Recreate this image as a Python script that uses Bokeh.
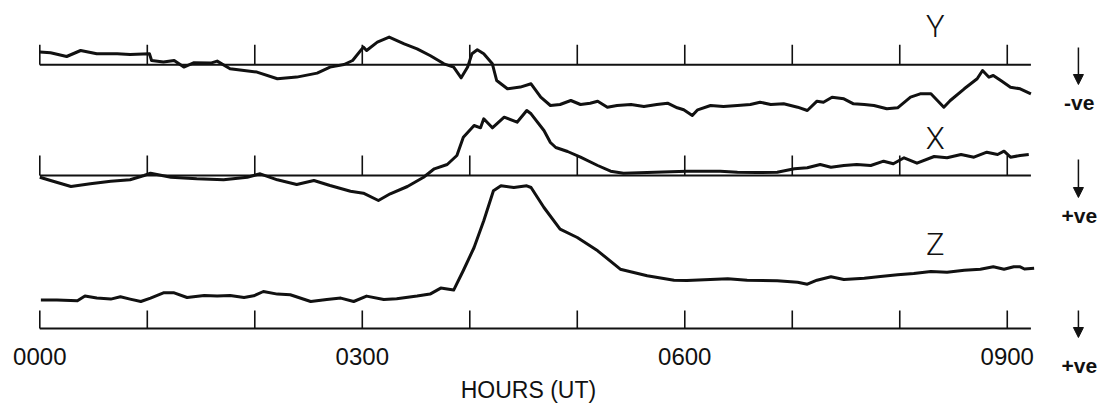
from bokeh.plotting import figure
from bokeh.models import Range1d, Label, Arrow, NormalHead
from bokeh.core.properties import value
from bokeh.embed import file_html
from bokeh.resources import INLINE

# ---------------- data (hours UT, deflection in chart units, up = positive) ----------------
hour_ticks = [0, 1, 2, 3, 4, 5, 6, 7, 8, 9]
label_hours = [0, 3, 6, 9]
tick_labels = ["0000", "0300", "0600", "0900"]
record_end = 9.22

y_hours = [0.00, 0.10, 0.25, 0.38, 0.53, 0.72, 0.84, 1.02, 1.04, 1.15, 1.25, 1.34, 1.43, 1.59,
           1.65, 1.77, 1.90, 2.02, 2.21, 2.39, 2.58, 2.70, 2.83, 2.91, 3.01, 3.04, 3.14, 3.25,
           3.39, 3.51, 3.63, 3.76, 3.85, 3.92, 3.98, 4.02, 4.07, 4.13, 4.21, 4.25, 4.35, 4.47,
           4.57, 4.66, 4.75, 4.84, 4.94, 5.03, 5.12, 5.19, 5.28, 5.37, 5.50, 5.62, 5.74, 5.84,
           5.93, 5.99, 6.07, 6.12, 6.24, 6.36, 6.49, 6.61, 6.70, 6.80, 6.92, 7.05, 7.14, 7.23,
           7.29, 7.37, 7.48, 7.57, 7.67, 7.76, 7.88, 7.98, 8.10, 8.19, 8.29, 8.35, 8.41, 8.47,
           8.60, 8.72, 8.77, 8.83, 8.87, 8.94, 9.03, 9.12, 9.22]
y_defl = [12.7, 12.0, 8.3, 14.3, 11.0, 11.0, 10.3, 11.0, 4.3, 2.7, 4.3, -2.3, 2.0, 1.7,
          3.7, -4.0, -5.7, -7.3, -14.0, -12.3, -8.3, -2.3, 0.3, 4.3, 17.7, 14.3, 22.7, 27.7,
          21.0, 16.0, 9.3, 1.0, -2.3, -13.0, -2.3, 11.0, 15.0, 11.0, 1.0, -15.7, -24.0, -22.3,
          -19.0, -32.4, -40.7, -39.7, -35.7, -39.7, -38.4, -36.4, -42.4, -40.7, -39.7, -41.7, -39.7, -38.4,
          -43.0, -45.0, -50.7, -45.0, -40.7, -41.7, -40.7, -39.7, -37.4, -39.7, -39.0, -42.4, -45.7, -36.4,
          -37.4, -32.4, -34.0, -39.0, -39.7, -40.7, -44.0, -43.0, -32.4, -29.0, -29.0, -35.7, -42.4, -35.7,
          -24.0, -14.0, -5.7, -12.4, -10.7, -15.7, -22.4, -24.0, -29.0]

x_hours = [0.00, 0.10, 0.29, 0.47, 0.66, 0.84, 0.97, 1.03, 1.22, 1.46, 1.71, 1.93, 2.05, 2.21,
           2.39, 2.55, 2.70, 2.89, 3.01, 3.15, 3.26, 3.42, 3.57, 3.67, 3.79, 3.88, 3.94, 4.04,
           4.10, 4.13, 4.21, 4.32, 4.44, 4.53, 4.57, 4.69, 4.75, 4.80, 4.91, 5.03, 5.19, 5.31,
           5.43, 5.65, 5.87, 6.02, 6.18, 6.33, 6.49, 6.67, 6.86, 7.02, 7.14, 7.26, 7.36, 7.48,
           7.60, 7.73, 7.85, 7.94, 8.04, 8.16, 8.32, 8.44, 8.57, 8.69, 8.81, 8.91, 8.97, 9.03,
           9.12, 9.20]
x_defl = [-1.7, -5.0, -11.0, -8.3, -5.7, -4.3, 0.0, 2.3, -1.7, -3.3, -4.3, -1.7, 1.7, -4.3,
          -9.0, -5.0, -10.0, -15.7, -17.7, -25.0, -18.3, -11.0, -1.7, 6.7, 11.0, 20.0, 38.3, 50.0,
          47.7, 56.7, 47.7, 58.3, 53.3, 65.0, 61.7, 45.0, 33.0, 28.0, 24.0, 18.3, 10.0, 4.3,
          2.3, 3.0, 3.7, 4.3, 4.3, 4.3, 3.3, 3.0, 3.3, 6.7, 7.7, 11.0, 8.3, 10.0,
          11.0, 10.0, 14.3, 11.7, 17.7, 12.3, 19.0, 17.7, 21.0, 18.3, 23.3, 21.0, 24.3, 18.3,
          20.0, 21.0]

z_hours = [0.01, 0.16, 0.35, 0.42, 0.53, 0.66, 0.75, 0.84, 0.94, 1.03, 1.15, 1.25, 1.37, 1.53,
           1.65, 1.77, 1.90, 1.99, 2.08, 2.21, 2.33, 2.52, 2.67, 2.80, 2.92, 3.04, 3.20, 3.32,
           3.51, 3.63, 3.73, 3.85, 3.94, 4.04, 4.13, 4.22, 4.29, 4.41, 4.53, 4.57, 4.69, 4.84,
           5.00, 5.19, 5.40, 5.65, 5.90, 6.02, 6.40, 6.58, 6.86, 7.05, 7.14, 7.23, 7.36, 7.48,
           7.67, 7.82, 7.98, 8.13, 8.29, 8.44, 8.60, 8.75, 8.87, 8.97, 9.06, 9.12, 9.16, 9.25]
z_defl = [28.4, 28.4, 27.7, 32.4, 30.4, 29.4, 31.7, 29.4, 27.0, 30.4, 35.7, 35.7, 31.0, 33.0,
          32.4, 33.0, 31.0, 32.7, 37.0, 34.4, 33.7, 27.0, 29.0, 30.4, 27.0, 32.4, 29.0, 29.7,
          32.4, 34.4, 40.4, 38.4, 58.0, 81.0, 107.7, 137.7, 142.7, 141.0, 142.7, 141.0, 121.0, 99.3,
          91.0, 77.7, 59.3, 52.7, 48.3, 48.0, 49.7, 48.3, 47.7, 46.3, 44.3, 48.3, 51.7, 49.0,
          50.3, 52.0, 53.7, 55.0, 57.0, 56.3, 58.3, 59.3, 61.7, 59.3, 61.7, 61.7, 59.5, 60.3]

# ---------------- layout constants ----------------
Y_BASE, X_BASE, Z_BASE = 263.7, 153.0, 0.0
TICK_LEN = 20
Z_TICK_LEN = 18
INK = "#111111"

p = figure(width=1102, height=403, output_backend="svg", toolbar_location=None,
           x_range=Range1d(-0.3656, 9.886), y_range=Range1d(-75, 328),
           x_axis_location=None, y_axis_location=None,
           min_border_left=0, min_border_right=0, min_border_top=0, min_border_bottom=0)
p.grid.visible = False
p.outline_line_color = None
p.background_fill_color = "white"
p.border_fill_color = "white"

# baselines with hour ticks (Y, X traces and the time axis under Z)
for base, tl in ((Y_BASE, TICK_LEN), (X_BASE, TICK_LEN), (Z_BASE, Z_TICK_LEN)):
    p.segment(x0=[0], y0=[base], x1=[record_end], y1=[base], line_color=INK, line_width=2)
    p.segment(x0=hour_ticks, y0=[base] * len(hour_ticks), x1=hour_ticks,
              y1=[base + tl] * len(hour_ticks), line_color=INK, line_width=1.6)

# traces
p.line(y_hours, [Y_BASE + d for d in y_defl], line_color=INK, line_width=3, line_join="round")
p.line(x_hours, [X_BASE + d for d in x_defl], line_color=INK, line_width=3, line_join="round")
p.line(z_hours, [Z_BASE + d for d in z_defl], line_color=INK, line_width=3, line_join="round")

# time-axis labels
p.text(x=label_hours, y=[-28] * len(label_hours), text=tick_labels, text_align="center",
       text_baseline="middle", text_font=value("Liberation Sans"), text_font_size="24px",
       text_color=INK)
p.add_layout(Label(x=4.546, y=-61, text="HOURS (UT)", text_align="center", text_baseline="middle",
                   text_font="Liberation Sans", text_font_size="23px", text_color=INK))

# component labels
for txt, yy in (("Y", 302), ("X", 190), ("Z", 84)):
    p.add_layout(Label(x=8.33, y=yy, text=txt, text_align="center", text_baseline="middle",
                       text_font="Roboto Light", text_font_size="31px", text_color=INK))

# sign-convention arrows on the right
for (ys, ye) in ((281, 244), (169, 131), (18, -9)):
    p.add_layout(Arrow(end=NormalHead(size=10, fill_color=INK, line_color=INK, line_width=1),
                       x_start=9.662, y_start=ys, x_end=9.662, y_end=ye,
                       line_color=INK, line_width=1.5))
for txt, yy in (("-ve", 226), ("+ve", 113), ("+ve", -37)):
    p.add_layout(Label(x=9.67, y=yy, text=txt, text_align="center", text_baseline="middle",
                       text_font="Liberation Sans", text_font_style="bold",
                       text_font_size="21px", text_color=INK))

open("out.html", "w").write(file_html(p, INLINE))
